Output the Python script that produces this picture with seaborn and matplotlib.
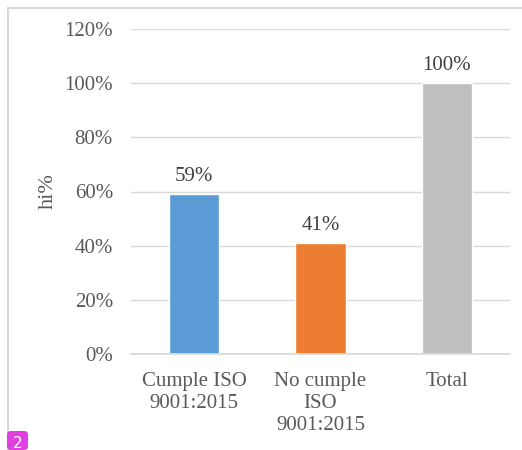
import matplotlib
matplotlib.use("Agg")
import matplotlib.pyplot as plt
import seaborn as sns
import pandas as pd
from matplotlib.patches import Rectangle, FancyBboxPatch
from matplotlib.ticker import FuncFormatter

categories = ["Cumple ISO\n9001:2015", "No cumple\nISO\n9001:2015", "Total"]
values = [59, 41, 100]
colors = ["#5B9BD5", "#ED7D31", "#BFBFBF"]
y_ticks = [0, 20, 40, 60, 80, 100, 120]

sns.set_theme(style="white")
plt.rcParams["font.family"] = ["Liberation Serif", "DejaVu Serif"]

df = pd.DataFrame({"cat": categories, "val": values})

fig = plt.figure(figsize=(5.22, 4.5), dpi=100)
ax = fig.add_axes([131 / 522, 1 - 354 / 450, 379 / 522, 325 / 450])

sns.barplot(data=df, x="cat", y="val", hue="cat", palette=colors,
            width=0.40, legend=False, ax=ax, saturation=1)

ax.set_ylim(0, 120)
ax.set_yticks(y_ticks)
ax.yaxis.set_major_formatter(FuncFormatter(lambda v, p: f"{v:.0f}%"))
ax.grid(axis="y", color="#D9D9D9", linewidth=1)
ax.set_axisbelow(True)
for s in ["top", "right", "left"]:
    ax.spines[s].set_visible(False)
ax.spines["bottom"].set_color("#D9D9D9")
ax.tick_params(axis="both", length=0, labelsize=15, colors="#595959")
ax.tick_params(axis="x", pad=13)
ax.tick_params(axis="y", pad=13)
for lbl in ax.get_xticklabels():
    lbl.set_linespacing(1.2)
ax.set_xlabel("")
ax.set_ylabel("hi%", fontsize=16, color="#595959")
ax.yaxis.set_label_coords(-0.193, 0.50)

for i, v in enumerate(values):
    ax.text(i, v + 3, f"{v}%", ha="center", va="bottom", fontsize=15, color="#404040")

# outer chart frame
fig.patches.append(Rectangle((8 / 522, -0.1), 1.2, 1 - 8 / 450 + 0.1,
                             transform=fig.transFigure, fill=False,
                             edgecolor="#D9D9D9", linewidth=1.5))

# page badge
fig.patches.append(FancyBboxPatch((7 / 522, 0.0), 21 / 522, 19 / 450,
                                  boxstyle="round,pad=0,rounding_size=0.008",
                                  transform=fig.transFigure,
                                  facecolor="#E040E0", edgecolor="none"))
fig.text(17.5 / 522, 1 - 444 / 450, "2", ha="center", va="center", fontsize=11,
         color="white", family="DejaVu Sans")

fig.savefig("out.png", dpi=100)
